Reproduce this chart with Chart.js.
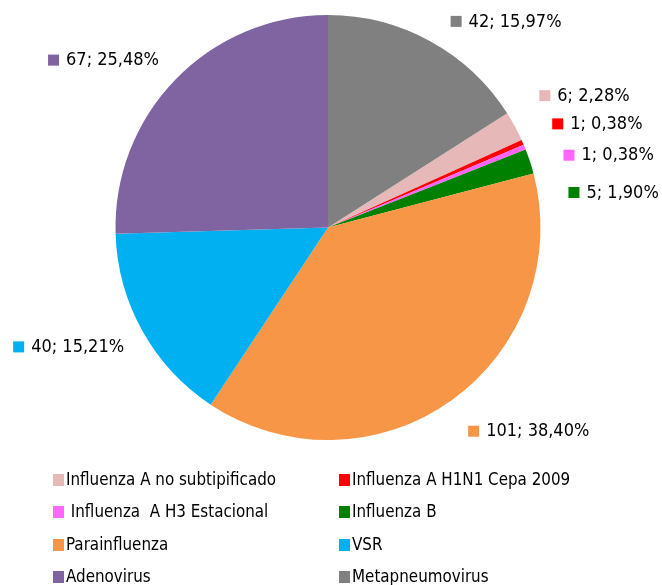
<!DOCTYPE html>
<html>
<head>
<meta charset="utf-8">
<script src="https://cdn.jsdelivr.net/npm/chart.js@4.4.0/dist/chart.umd.min.js"></script>
<style>
    body { margin: 0; background: #fff; }
</style>
</head>
<body>
<canvas id="virusChart" width="662" height="585"></canvas>
<script>
const categories = ['Influenza A no subtipificado', 'Influenza A H1N1 Cepa 2009', ' Influenza  A H3 Estacional', 'Influenza B',
    'Parainfluenza', 'VSR', 'Adenovirus', 'Metapneumovirus'];
const cases = [6, 1, 1, 5, 101, 40, 67, 42];
const colors = ['#E6B9B8', '#FF0000', '#FF66FF', '#008000', '#F79646', '#00B0F0', '#8064A2', '#808080'];

const total = cases.reduce((a, b) => a + b, 0);
const pctText = cases.map(v => v + '; ' + (v / total * 100).toFixed(2).replace('.', ',') + '%');

// label nudges (Excel spreads the small slices apart)
const labelNudge = [[-2, -16], [2, -6], [11, 20], [10, 41], [-1, 7], [8, 2], [5, 2], [6, 7]];
const FONT = "18px 'DejaVu Sans Condensed', 'DejaVu Sans', sans-serif";

function drawText(ctx, txt, x, y, align, squeeze) {
    ctx.save();
    ctx.translate(x, y);
    ctx.scale(squeeze, 1);
    ctx.textAlign = align;
    ctx.textBaseline = 'middle';
    ctx.fillStyle = '#000';
    ctx.fillText(txt, 0, 0);
    ctx.restore();
}

const sliceLabels = {
    id: 'sliceLabels',
    afterDatasetsDraw(chart) {
        const ctx = chart.ctx;
        ctx.font = FONT;
        chart.getDatasetMeta(0).data.forEach((arc, i) => {
            const mid = (arc.startAngle + arc.endAngle) / 2;
            const r = arc.outerRadius + 30;
            const x = arc.x + Math.cos(mid) * r + labelNudge[i][0];
            const y = arc.y + Math.sin(mid) * r + labelNudge[i][1];
            const w = ctx.measureText(pctText[i]).width;
            ctx.fillStyle = colors[i];
            if (Math.cos(mid) >= 0) {
                ctx.fillRect(x, y - 6, 11, 11);
                drawText(ctx, pctText[i], x + 18, y, 'left', 1);
            } else {
                ctx.fillRect(x - w - 18, y - 6, 11, 11);
                drawText(ctx, pctText[i], x, y, 'right', 1);
            }
        });
    }
};

const bottomLegend = {
    id: 'bottomLegend',
    afterDraw(chart) {
        const ctx = chart.ctx;
        ctx.font = FONT;
        const colX = [53, 339];
        const rowY = [480, 512, 545, 577];
        categories.forEach((name, i) => {
            const x = colX[i % 2];
            const y = rowY[Math.floor(i / 2)];
            ctx.fillStyle = colors[i];
            ctx.fillRect(x, y - 6, 11, 12);
            drawText(ctx, name, x + 13, y, 'left', 0.935);
        });
    }
};

new Chart(document.getElementById('virusChart'), {
    type: 'pie',
    data: {
        labels: categories,
        datasets: [{
            data: cases,
            backgroundColor: colors,
            borderWidth: 0
        }]
    },
    options: {
        responsive: false,
        animation: false,
        rotation: cases[cases.length - 1] / total * 360,
        layout: {
            padding: { top: 15, bottom: 145, left: 0, right: 6 }
        },
        plugins: {
            legend: { display: false },
            tooltip: { enabled: false }
        }
    },
    plugins: [sliceLabels, bottomLegend]
});
</script>
</body>
</html>
